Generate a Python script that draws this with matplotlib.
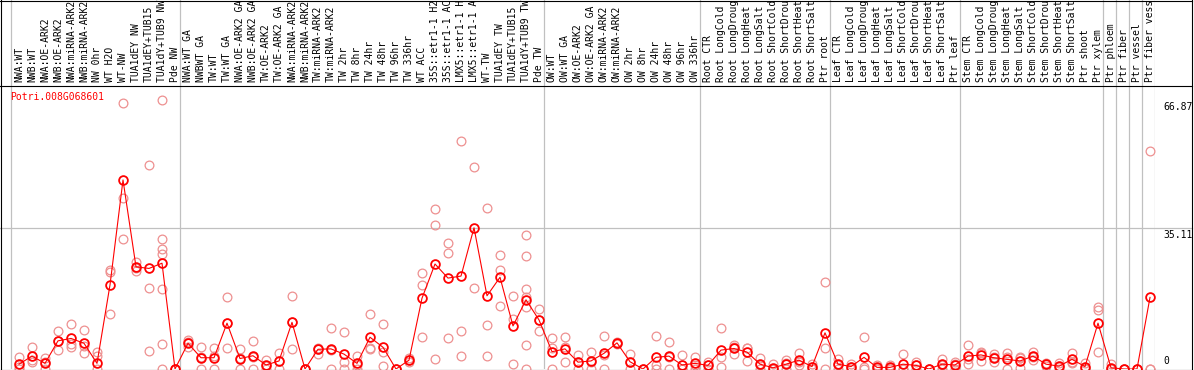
import matplotlib
matplotlib.use("Agg")
import matplotlib.pyplot as plt
from matplotlib.lines import Line2D
import numpy as np

# ---------------- data ----------------
gene = "Potri.008G068601"

labels = [
    "NWA:WT", "NWB:WT", "NWA:OE-ARK2", "NWB:OE-ARK2", "NWA:miRNA-ARK2", "NWB:miRNA-ARK2",
    "NW 0hr", "WT H2O", "WT-NW", "TUA1dEY NW", "TUA1dEY+TUB15 NW", "TUA1dY+TUB9 NW", "Pde NW",
    "NWA:WT GA", "NWBWT GA", "TW:WT", "TW:WT GA", "NWA:OE-ARK2 GA", "NWB:OE-ARK2 GA",
    "TW:OE-ARK2", "TW:OE-ARK2 GA", "NWA:miRNA-ARK2", "NWB:miRNA-ARK2", "TW:miRNA-ARK2",
    "TW:miRNA-ARK2", "TW 2hr", "TW 8hr", "TW 24hr", "TW 48hr", "TW 96hr", "TW 336hr",
    "WT ACC", "35S::etr1-1 H2O", "35S::etr1-1 ACC", "LMX5::etr1-1 H2O", "LMX5::etr1-1 ACC",
    "WT-TW", "TUA1dEY TW", "TUA1dEY+TUB15 TW", "TUA1dY+TUB9 TW", "Pde TW",
    "OW:WT", "OW:WT GA", "OW:OE-ARK2", "OW:OE-ARK2 GA", "OW:miRNA-ARK2", "OW:miRNA-ARK2",
    "OW 2hr", "OW 8hr", "OW 24hr", "OW 48hr", "OW 96hr", "OW 336hr",
    "Root CTR", "Root LongCold", "Root LongDrought", "Root LongHeat", "Root LongSalt",
    "Root ShortCold", "Root ShortDrought", "Root ShortHeat", "Root ShortSalt", "Ptr root",
    "Leaf CTR", "Leaf LongCold", "Leaf LongDrought", "Leaf LongHeat", "Leaf LongSalt",
    "Leaf ShortCold", "Leaf ShortDrought", "Leaf ShortHeat", "Leaf ShortSalt", "Ptr leaf",
    "Stem CTR", "Stem LongCold", "Stem LongDrought", "Stem LongHeat", "Stem LongSalt",
    "Stem ShortCold", "Stem ShortDrought", "Stem ShortHeat", "Stem ShortSalt", "Ptr shoot",
    "Ptr xylem", "Ptr phloem", "Ptr fiber", "Ptr vessel", "Ptr fiber vessel",
]

group_sizes = [13, 28, 12, 10, 10, 11, 1, 1, 1, 1]

means = [
    1.2, 3.2, 1.4, 7.0, 7.6, 6.4, 1.4, 20.9, 47.0, 25.4, 25.0, 26.3, 0,
    6.4, 2.8, 2.8, 11.4, 2.6, 3.3, 1.0, 2.0, 11.6, 0, 4.9, 5.0, 3.7, 1.4, 7.9, 5.4, 0,
    2.2, 17.6, 26.1, 22.6, 23.1, 35.11, 18.2, 22.8, 10.7, 17.2, 12.2,
    4.3, 5.0, 1.7, 2.0, 3.9, 6.5, 1.8, 0, 2.9, 3.2, 1.0, 1.4,
    0.9, 4.7, 5.1, 4.2, 1.2, 0.3, 1.2, 2.2, 0.6, 9.0,
    1.2, 0.6, 2.9, 0.4, 0.4, 1.2, 0.9, 0, 1.2, 1.0,
    3.2, 3.5, 2.8, 2.4, 2.0, 3.2, 1.2, 0.7, 2.4, 0.6, 11.4,
    0.3, 0, 0, 17.8,
]

replicates = [
    [3.1, 0.5, 0], [5.5, 2.2, 1.8], [2.7, 1.8, 0], [9.5, 7.0, 4.6], [11.2, 6.2, 5.4],
    [9.7, 5.7, 4.1], [4.2, 3.3, 0], [24.6, 24.0, 13.7], [66.1, 42.5, 32.3],
    [26.7, 25.2, 24.4], [50.7, 20.1, 4.5], [66.87, 32.3, 29.8, 28.6, 19.8, 6.1, 0],
    [0, 0, 0],
    [7.2, 6.6, 5.4], [5.5, 3.0, 0], [5.1, 3.3, 0], [17.8, 11.4, 5.1], [5.0, 2.8, 0],
    [7.0, 3.0, 0], [2.2, 0.8, 0], [3.9, 2.0, 0], [18.2, 11.6, 5.0], [0, 0, 0],
    [5.3, 4.9, 3.7], [10.2, 4.8, 0], [9.1, 1.7, 0], [3.3, 1.0, 0], [13.7, 5.1, 4.9],
    [11.2, 4.3, 0.7], [0, 0, 0], [2.8, 2.2, 1.7], [23.8, 20.9, 8.0], [39.7, 35.7, 2.5],
    [31.3, 28.8, 7.6], [56.7, 9.5, 3.3], [50.2, 20.1], [40.0, 10.9, 3.2],
    [28.4, 24.6, 15.7], [18.2, 12.4, 1.2], [33.3, 28.1, 19.8, 17.8, 15.3, 6.0, 0],
    [14.9, 12.2, 9.5],
    [7.7, 5.2, 0], [7.9, 5.4, 1.7], [3.4, 1.7, 0], [4.2, 1.8, 0], [8.2, 3.5, 0],
    [6.8, 6.5, 6.2], [3.7, 1.7, 0], [0, 0, 0], [8.2, 1.0, 0], [6.6, 3.0, 0],
    [3.5, 0, 0], [3.1, 1.1, 0],
    [1.8, 0.9, 0], [10.2, 3.1, 0.6], [6.0, 5.5, 3.7], [5.3, 5.2, 2.1], [2.7, 0.9, 0],
    [1.2, 0, 0], [2.2, 1.4, 0], [3.9, 1.7, 1.0], [1.2, 0.6, 0], [21.6, 5.1, 0],
    [2.6, 1.0, 0], [1.2, 0.6, 0], [8.0, 0.6, 0], [1.0, 0.2, 0], [1.0, 0.2, 0],
    [3.7, 0, 0], [1.8, 0.9, 0], [0, 0, 0], [2.6, 1.0, 0], [1.7, 1.3, 0],
    [6.0, 2.4, 1.2], [4.3, 4.1, 2.1], [3.7, 2.9, 1.8], [4.1, 3.1, 0], [2.7, 2.9, 0.3],
    [4.3, 3.1, 2.2], [1.6, 1.2, 0.8], [1.6, 0.5, 0], [3.9, 1.5, 1.8], [1.6, 0.2, 0],
    [15.3, 14.7, 4.2],
    [1.2, 0, 0], [0, 0, 0], [0, 0, 0], [54.2, 0, 0],
]

tick_values = [66.87, 35.11, 0]
tick_labels = ["66.87", "35.11", "0"]

MAX_CHARS = 14  # the label band only shows this many characters

# ---------------- layout ----------------
W, H = 1194, 370
fig = plt.figure(figsize=(W / 100, H / 100), dpi=100)

def rect(x0, y0, x1, y1):
    return [x0 / W, 1 - y1 / H, (x1 - x0) / W, (y1 - y0) / H]

PLOT_L, PLOT_R, PLOT_T, PLOT_B = 0, 1155, 85, 369
STEP = 13.0
X0 = 19.0
xlim = ((PLOT_L - X0) / STEP, (PLOT_R - X0) / STEP)
PX_PER_UNIT = (PLOT_B - 100) / 66.87
ylim = (0, (PLOT_B - PLOT_T) / PX_PER_UNIT)

ax = fig.add_axes(rect(PLOT_L, PLOT_T, PLOT_R, PLOT_B))
lab = fig.add_axes(rect(PLOT_L, 0, PLOT_R, PLOT_T))
for a in (ax, lab):
    a.set_xlim(*xlim)
    a.axis("off")
ax.set_ylim(*ylim)
lab.set_ylim(0, 1)

mono = "DejaVu Sans Mono"
FS = 7.0
n = len(labels)
xs = np.arange(n)

# separators
bounds = np.concatenate([[0], np.cumsum(group_sizes)]) - 0.6
for b in bounds:
    for a in (ax, lab):
        a.axvline(b, color="#c0c0c0", lw=0.9, zorder=0)

# horizontal grid at the max mean value
ax.axhline(tick_values[1], color="#c0c0c0", lw=0.9, zorder=0)

# replicates
rx = [i for i, r in enumerate(replicates) for _ in r]
ry = [v for r in replicates for v in r]
ax.plot(rx, ry, linestyle="none", marker="o", markersize=6.3, markerfacecolor="none",
        markeredgecolor="#ee9090", markeredgewidth=0.9, zorder=2)

# means
ax.plot(xs, means, color="#ff0000", lw=0.8, marker="o", markersize=6.3,
        markerfacecolor="none", markeredgecolor="#ff0000", markeredgewidth=1.3, zorder=3)

# labels
for i, t in enumerate(labels):
    lab.text(i, 2.5 / 85, t[:MAX_CHARS].rstrip(), rotation=90, ha="center", va="bottom",
             fontsize=FS, family=mono, color="black", clip_on=True)

# gene title
fig.text(10 / W, 1 - 92 / H, gene, color="#ff0000", fontsize=FS, family=mono,
         ha="left", va="top")

# y tick labels on the right
for v, t in zip(tick_values, tick_labels):
    ypx = PLOT_B - v * PX_PER_UNIT
    if v == 0:
        fig.text(1163 / W, 1 - (ypx - 3) / H, t, fontsize=FS, family=mono, ha="left", va="bottom")
    else:
        fig.text(1163 / W, 1 - (ypx + 2) / H, t, fontsize=FS, family=mono, ha="left", va="top")

# extend grid line into the right margin
ygrid = PLOT_B - tick_values[1] * PX_PER_UNIT
fig.add_artist(Line2D([PLOT_R / W, 1192 / W], [1 - ygrid / H, 1 - ygrid / H],
                      color="#c0c0c0", lw=0.9, transform=fig.transFigure))

# black frame lines
def hline(y, x0=0, x1=1192):
    fig.add_artist(Line2D([x0 / W, x1 / W], [1 - y / H, 1 - y / H], color="black", lw=0.8,
                          transform=fig.transFigure))

def vline(x, y0=0, y1=370):
    fig.add_artist(Line2D([x / W, x / W], [1 - y0 / H, 1 - y1 / H], color="black", lw=0.8,
                          transform=fig.transFigure))

hline(0.5)
hline(85.5)
hline(369.5)
vline(0.5, 0, 370)
vline(1191.5, 0, 370)

fig.savefig("out.png", dpi=100)
